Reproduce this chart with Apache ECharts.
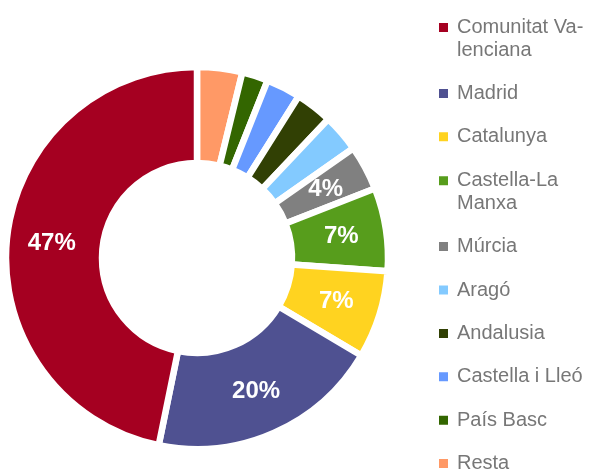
<!DOCTYPE html>
<html>
<head>
<meta charset="utf-8">
<script src="https://cdn.jsdelivr.net/npm/echarts@6/dist/echarts.min.js"></script>
<style>
html,body{margin:0;padding:0;background:#fff;}
#chart{width:591px;height:470px;}
</style>
</head>
<body>
<div id="chart"></div>
<script>
// Data (slice order clockwise from 12 o'clock)
const categories = ['Resta', 'País Basc', 'Castella i Lleó', 'Andalusia', 'Aragó', 'Múrcia', 'Castella-La Manxa', 'Catalunya', 'Madrid', 'Comunitat Valenciana'];
const values = [3.8, 2.2, 2.9, 3.1, 3.2, 3.8, 7.0, 7.4, 19.6, 46.6];
const colors = ['#ff9966', '#336600', '#6699ff', '#314004', '#83caff', '#808080', '#579d1c', '#ffd320', '#4f5191', '#a50021'];
// Legend order and displayed (wrapped) text
const legendOrder = ['Comunitat Valenciana', 'Madrid', 'Catalunya', 'Castella-La Manxa', 'Múrcia', 'Aragó', 'Andalusia', 'Castella i Lleó', 'País Basc', 'Resta'];
const legendText = {
  'Comunitat Valenciana': ['Comunitat Va-', 'lenciana'],
  'Castella-La Manxa': ['Castella-La', 'Manxa']
};
const labeledSlices = ['Comunitat Valenciana', 'Madrid', 'Catalunya', 'Castella-La Manxa', 'Múrcia'];

const chart = echarts.init(document.getElementById('chart'), null, {renderer: 'canvas'});

const LINE_H = 23;
const legends = [];
let iconCenter = 24;
legendOrder.forEach(function (name) {
  const lines = legendText[name] || [name];
  const extra = (lines.length - 1) * LINE_H;
  legends.push({
    orient: 'vertical',
    left: 437,
    top: iconCenter - (lines.length > 1 ? 6.5 : 7),
    padding: 0,
    itemWidth: 11,
    itemHeight: 11,
    icon: 'rect',
    selectedMode: false,
    data: [{name: name, icon: 'rect'}],
    formatter: function (n) {
      return (legendText[n] || [n]).map(function (l) { return '{a|' + l + '}'; }).join('\n');
    },
    textStyle: {
      padding: [extra, 0, 0, 3],
      rich: {
        a: {
          fontFamily: 'Liberation Sans',
          fontSize: 20,
          lineHeight: LINE_H,
          color: '#777777'
        }
      }
    }
  });
  iconCenter += 43.4 + extra;
});

chart.setOption({
  animation: false,
  backgroundColor: '#ffffff',
  color: colors,
  legend: legends,
  series: [{
    type: 'pie',
    center: [197, 258],
    radius: [95, 191],
    startAngle: 90,
    clockwise: true,
    avoidLabelOverlap: false,
    itemStyle: {borderColor: '#ffffff', borderWidth: 6.5},
    label: {
      show: true,
      position: 'inside',
      color: '#ffffff',
      fontFamily: 'Liberation Sans',
      fontWeight: 'bold',
      fontSize: 24,
      formatter: function (p) {
        return labeledSlices.indexOf(p.name) >= 0 ? Math.round(p.percent) + '%' : '';
      }
    },
    labelLine: {show: false},
    emphasis: {disabled: true},
    data: categories.map(function (c, i) {
      return {name: c, value: values[i], itemStyle: {color: colors[i]}};
    })
  }]
});
</script>
</body>
</html>
